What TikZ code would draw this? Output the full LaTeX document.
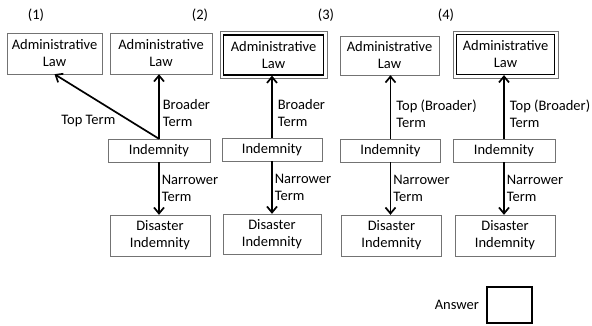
\documentclass[tikz,border=0pt]{standalone}
\usepackage{fontspec}
\setmainfont{Carlito}
\usetikzlibrary{arrows.meta,positioning}

\begin{document}
\begin{tikzpicture}[
  x=1pt, y=-1pt,
  font=\fontsize{14.5}{17}\selectfont,
  term/.style={draw=black!55, minimum width=100pt, minimum height=41pt,
    align=center, inner sep=1pt},
  mid/.style={term, minimum height=23pt},
  pick/.style={term, draw=black, line width=1.2pt, minimum height=40pt},
  rel/.style={-{Straight Barb[length=6pt, width=10pt]}, line width=1.7pt},
  lab/.style={align=left, inner sep=3pt}
]
  \useasboundingbox (0,0) rectangle (592,325);

  % case numbers
  \node (n1) at (36,15) {(1)};
  \node (n2) at (200,15) {(2)};
  \node (n3) at (326,15) {(3)};
  \node (n4) at (446,15) {(4)};

  % (1) and (2)
  \node[term, minimum width=95pt] (adm1) at (54.5,53.5) {Administrative\\Law};
  \node[term, minimum width=102pt] (adm2) at (161,53.5) {Administrative\\Law};
  \node[mid, minimum width=102pt] (ind1) at (159,150.5) {Indemnity};
  \node[term] (dis1) at (160,235.5) {Disaster\\Indemnity};

  \draw[rel] (ind1.north) -- (adm1.south)
    node[pos=0.4, anchor=north east, inner sep=1pt] {Top Term};
  \draw[rel] (ind1.north) -- (ind1.north |- adm2.south)
    node[lab, pos=0.4, anchor=west] {Broader\\Term};
  \draw[rel] (ind1.south) -- (ind1.south |- dis1.north)
    node[lab, midway, anchor=west, inner sep=2pt] {Narrower\\Term};

  % (3)
  \node[pick] (adm3) at (273.5,55) {Administrative\\Law};
  \draw[black!55] ([shift={(-3,-3)}]adm3.north west) rectangle ([shift={(3,3)}]adm3.south east);
  \node[mid] (ind3) at (272,149.5) {Indemnity};
  \node[term, minimum width=98pt, minimum height=40pt] (dis3) at (272,234) {Disaster\\Indemnity};

  \draw[rel] (ind3.north) -- (ind3.north |- adm3.south)
    node[lab, pos=0.4, anchor=west, inner sep=5pt] {Broader\\Term};
  \draw[rel] (ind3.south) -- (ind3.south |- dis3.north)
    node[lab, midway, anchor=west, inner sep=2pt] {Narrower\\Term};

  % (4), left
  \node[term, minimum width=99pt, minimum height=39pt] (adm4) at (389.5,55.5) {Administrative\\Law};
  \node[mid] (ind4) at (390.5,150.5) {Indemnity};
  \node[term] (dis4) at (391.5,235.5) {Disaster\\Indemnity};

  \draw[rel] (ind4.north) -- (ind4.north |- adm4.south)
    node[lab, pos=0.4, anchor=west, inner sep=5pt] {Top (Broader)\\Term};
  \draw[rel] (ind4.south) -- (ind4.south |- dis4.north)
    node[lab, midway, anchor=west, inner sep=2pt] {Narrower\\Term};

  % (4), right
  \node[pick, minimum width=98pt] (adm5) at (505.5,54.5) {Administrative\\Law};
  \draw[black!55] ([shift={(-3,-3)}]adm5.north west) rectangle ([shift={(3,3)}]adm5.south east);
  \node[mid, minimum width=102pt] (ind5) at (504,150.5) {Indemnity};
  \node[term] (dis5) at (505,235.5) {Disaster\\Indemnity};

  \draw[rel] (ind5.north) -- (ind5.north |- adm5.south)
    node[lab, pos=0.4, anchor=west, inner sep=5pt] {Top (Broader)\\Term};
  \draw[rel] (ind5.south) -- (ind5.south |- dis5.north)
    node[lab, midway, anchor=west, inner sep=2pt] {Narrower\\Term};

  % answer
  \node[draw, line width=1.2pt, minimum width=45pt, minimum height=36pt] (ans) at (509.5,305) {};
  \node[left=4pt of ans] (anslab) {Answer};
\end{tikzpicture}
\end{document}
